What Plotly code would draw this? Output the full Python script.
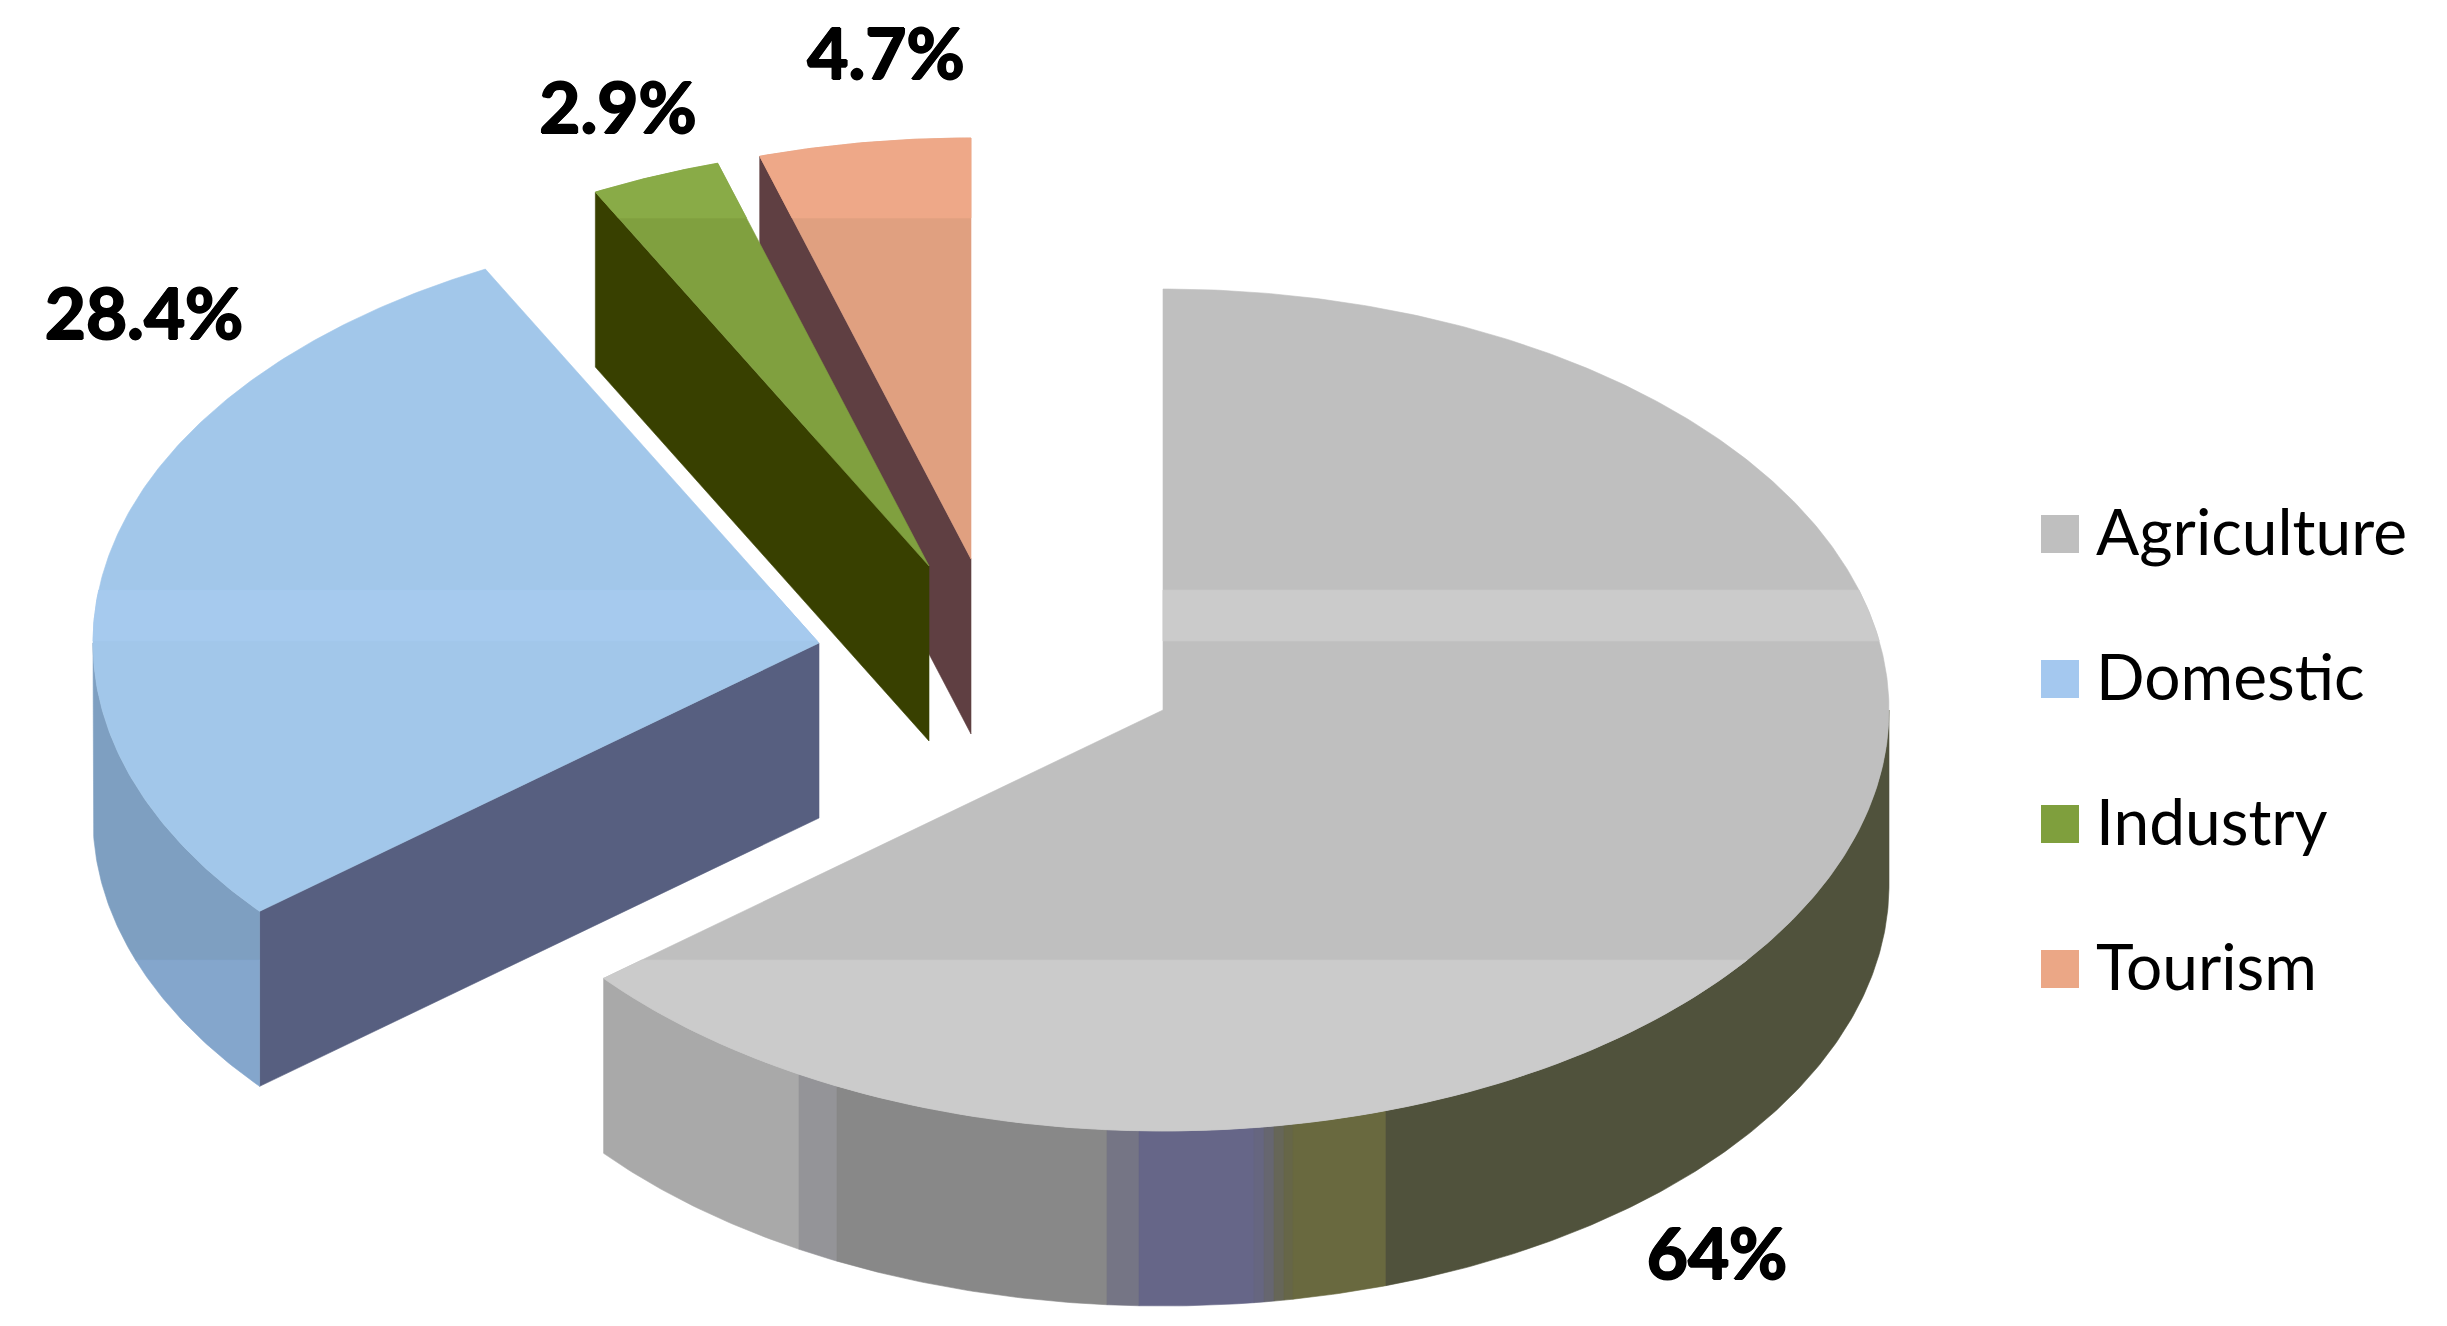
import numpy as np
import plotly.graph_objects as go

# ---- data ----
categories = ["Agriculture", "Domestic", "Industry", "Tourism"]
values = [64, 28.4, 2.9, 4.7]
top_colors = ["#bfbfbf", "#a2c7ea", "#80a03f", "#e0a080"]
swatch_colors = ["#bfbfbf", "#a4c8ef", "#7f9f3d", "#eba786"]
band_colors = ["#cbcbcb", "#a6caee", "#89ab47", "#eea888"]
cut_colors = [None, "#575f80", "#384000", "#5f3f42"]
label_points = [(1717, 1261), (144, 321), (618, 115), (886, 61)]

# ---- projection of the tilted pie (pixels) ----
W, H = 2447, 1326
RX, RY, DEPTH = 726, 421, 175
apexes = [(1163, 710), (819, 643), (929, 566), (971, 559)]
BANDS = [(0, 218), (590, 641), (960, H)]  # lighter reflection bands on top faces

# outer wall shading of the big slice, as (x from, x to, colour)
main_wall = [
    (0, 799, "#a9a9a9"), (799, 837, "#949498"), (837, 1107, "#888888"),
    (1107, 1139, "#757585"), (1139, 1254, "#666688"),
    (1254, 1264, "#666680"), (1264, 1274, "#666670"), (1274, 1284, "#666658"),
    (1284, 1293, "#666648"), (1293, 1386, "#69693f"), (1386, W, "#50523c"),
]

fig = go.Figure()


def add_poly(poly, color):
    if len(poly) < 3:
        return
    xs = [p[0] for p in poly] + [poly[0][0]]
    ys = [p[1] for p in poly] + [poly[0][1]]
    fig.add_trace(go.Scatter(x=xs, y=ys, mode="lines", fill="toself", fillcolor=color,
                             line=dict(color=color, width=0.6), hoverinfo="skip",
                             showlegend=False))


def clip(poly, axis, limit, keep_less):
    out = []
    n = len(poly)
    for i in range(n):
        a, b = poly[i], poly[(i + 1) % n]
        ina = a[axis] <= limit if keep_less else a[axis] >= limit
        inb = b[axis] <= limit if keep_less else b[axis] >= limit
        if ina:
            out.append(a)
        if ina != inb:
            t = (limit - a[axis]) / (b[axis] - a[axis])
            out.append((a[0] + t * (b[0] - a[0]), a[1] + t * (b[1] - a[1])))
    return out


def clip_range(poly, axis, lo, hi):
    return clip(clip(poly, axis, lo, False), axis, hi, True) if poly else poly


def arc(apex, a0, a1, dy=0.0):
    t = np.radians(np.linspace(a0, a1, max(int(abs(a1 - a0) * 2), 4)))
    return [(apex[0] + RX * np.sin(v), apex[1] - RY * np.cos(v) + dy) for v in t]


def wall(apex, a0, a1):
    return arc(apex, a0, a1) + arc(apex, a1, a0, DEPTH)


edges = np.concatenate([[0], np.cumsum(values)]) / sum(values) * 360
slices = [(edges[i], edges[i + 1]) for i in range(len(values))]

for i in [3, 2, 1, 0]:
    apex = apexes[i]
    a0, a1 = slices[i]
    # cut face facing the viewer
    if cut_colors[i]:
        p = (apex[0] + RX * np.sin(np.radians(a0)), apex[1] - RY * np.cos(np.radians(a0)))
        add_poly([p, apex, (apex[0], apex[1] + DEPTH), (p[0], p[1] + DEPTH)], cut_colors[i])
    # outer wall
    if i == 0:
        w = wall(apex, 90, a1)
        for x0, x1, c in main_wall:
            add_poly(clip_range(w, 0, x0, x1), c)
    elif i == 1:
        w = wall(apex, a0, 270)
        add_poly(clip_range(w, 1, 0, 960), "#7e9fc1")
        add_poly(clip_range(w, 1, 960, H), "#84a6cc")
    # top face
    top = [apex] + arc(apex, a0, a1)
    add_poly(top, top_colors[i])
    for lo, hi in BANDS:
        add_poly(clip_range(top, 1, lo, hi), band_colors[i])

# value labels
fig.add_trace(go.Scatter(
    x=[p[0] for p in label_points], y=[p[1] for p in label_points],
    text=[f"{v}%" for v in values], mode="text", textposition="middle center",
    textfont=dict(family="Lato", size=71, color="#000000", weight="bold",
                  shadow="1px 0 0 #000, -1px 0 0 #000, 0 1px 0 #000, 0 -1px 0 #000"),
    hoverinfo="skip", showlegend=False))

# legend
leg_y = [534 + 145 * i for i in range(len(categories))]
fig.add_trace(go.Scatter(
    x=[2060] * len(categories), y=leg_y, mode="markers",
    marker=dict(symbol="square", size=38, color=swatch_colors, line=dict(width=0)),
    hoverinfo="skip", showlegend=False))
fig.add_trace(go.Scatter(
    x=[2096] * len(categories), y=[v + 5 for v in leg_y], mode="text", text=categories,
    textposition="middle right",
    textfont=dict(family="Lato", size=64, color="#000000"),
    hoverinfo="skip", showlegend=False))

fig.update_layout(
    width=W, height=H, margin=dict(l=0, r=0, t=0, b=0),
    paper_bgcolor="white", plot_bgcolor="white",
    xaxis=dict(range=[0, W], visible=False, fixedrange=True),
    yaxis=dict(range=[H, 0], visible=False, fixedrange=True),
)
fig.write_html("out.html", config={"displayModeBar": False},
               post_script="document.body.style.margin='0';document.body.style.overflow='hidden';")
